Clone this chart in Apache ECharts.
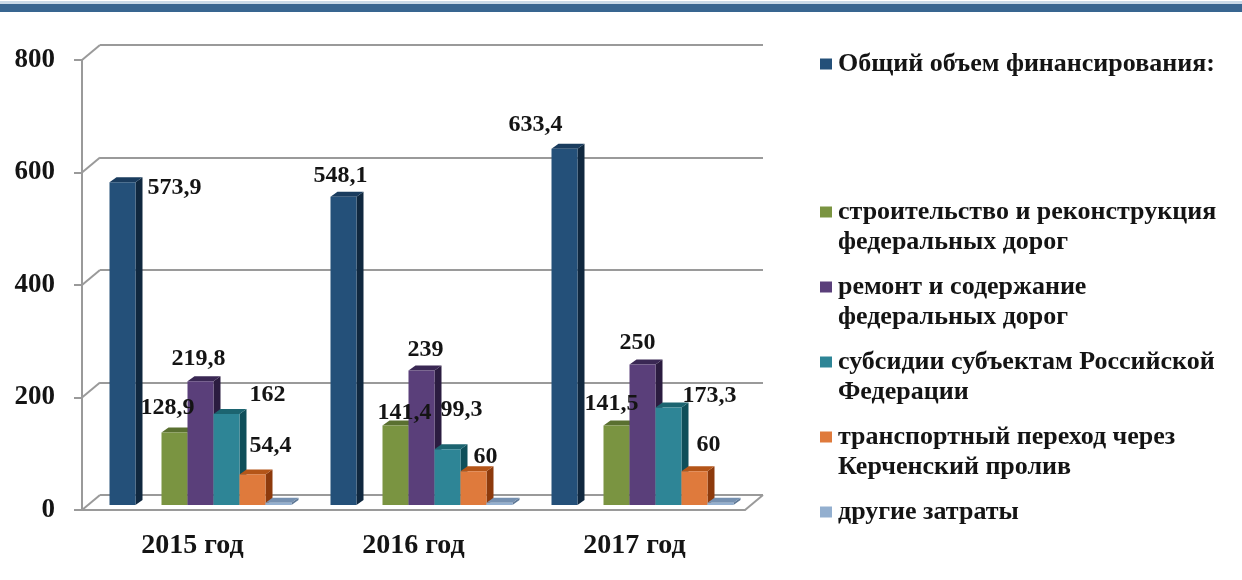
<!DOCTYPE html>
<html>
<head>
<meta charset="utf-8">
<script src="https://cdn.jsdelivr.net/npm/echarts@6/dist/echarts.min.js"></script>
<style>
  html, body { margin: 0; padding: 0; background: #fff; }
  #chart { width: 1242px; height: 580px; }
</style>
</head>
<body>
<div id="chart"></div>
<script>
// ---- data ----
const years = ['2015 год', '2016 год', '2017 год']
const yTicks = [0, 200, 400, 600, 800]

const seriesNames = [
  'Общий объем финансирования:',
  'строительство и реконструкция\nфедеральных дорог',
  'ремонт и содержание\nфедеральных дорог',
  'субсидии субъектам Российской\nФедерации',
  'транспортный переход через\nКерченский пролив',
  'другие затраты'
]

const totalFunding = [573.9, 548.1, 633.4]
const federalConstruction = [128.9, 141.4, 141.5]
const federalRepair = [219.8, 239, 250]
const regionalSubsidies = [162, 99.3, 173.3]
const kerchCrossing = [54.4, 60, 60]
const otherCosts = [4, 4, 4]

const seriesValues = [totalFunding, federalConstruction, federalRepair, regionalSubsidies, kerchCrossing, otherCosts]

// ---- style ----
const FONT = '"Liberation Serif", "Times New Roman", serif'
const TEXT = '#141414'
const GRID_LINE = '#9a9a9a'

// slot of each series inside the group (slot 1 is empty, as in the original)
const slots = [0, 2, 3, 4, 5, 6]
const SLOT_COUNT = 7
const BAR_FRAC = 26 / 221

// 3d look: bars sit a bit behind the front edge, back wall further back
const BAR_SHIFT = [8, -5]
const DEPTH = [7, -5]
const WALL = [18, -15]

const faces = [
  { front: '#245079', side: '#10283f', top: '#1a3c5e' },
  { front: '#7a9441', side: '#4e6324', top: '#5a7030' },
  { front: '#5a3f7a', side: '#2b1c40', top: '#3a2854' },
  { front: '#2e8596', side: '#0f4f5a', top: '#1c6470' },
  { front: '#df7a3c', side: '#8d3a0c', top: '#b45518' },
  { front: '#93afcf', side: '#5e7896', top: '#7590b0' }
]

// label offsets from the top centre of each bar, per series / per year
const labelOffsets = [
  [[52, 6], [-3, -21], [-29, -24]],
  [[-7, -25], [9, -13], [-5, -22]],
  [[-2, -23], [4, -21], [-5, -22]],
  [[41, -19], [14, -39], [41, -12]],
  [[18, -29], [12, -14], [14, -26]],
  null
]

const fmt = v => String(v).replace('.', ',')

const chart = echarts.init(document.getElementById('chart'))

const barSeries = seriesValues.map((values, k) => ({
  name: seriesNames[k],
  type: 'custom',
  xAxisIndex: 0,
  yAxisIndex: 0,
  silent: true,
  itemStyle: { color: faces[k].front },
  data: values.map((v, i) => [i, v]),
  renderItem: (params, api) => {
    const i = api.value(0)
    const v = api.value(1)
    const catW = api.size([1, 0])[0]
    const w = catW * BAR_FRAC
    const base = api.coord([i, 0])
    const top = api.coord([i, v])
    const x0 = base[0] - (SLOT_COUNT / 2) * w + BAR_SHIFT[0] + slots[k] * w
    const yb = base[1] + BAR_SHIFT[1]
    const yt = top[1] + BAR_SHIFT[1]
    const [dx, dy] = DEPTH
    const children = [
      {
        type: 'polygon',
        shape: { points: [[x0 + w, yt], [x0 + w + dx, yt + dy], [x0 + w + dx, yb + dy], [x0 + w, yb]] },
        style: { fill: faces[k].side }
      },
      {
        type: 'polygon',
        shape: { points: [[x0, yt], [x0 + dx, yt + dy], [x0 + w + dx, yt + dy], [x0 + w, yt]] },
        style: { fill: faces[k].top }
      },
      {
        type: 'rect',
        shape: { x: x0, y: yt, width: w, height: yb - yt },
        style: { fill: faces[k].front }
      }
    ]
    const off = labelOffsets[k]
    if (off) {
      children.push({
        type: 'text',
        z2: 100,
        x: x0 + w / 2 + off[i][0],
        y: yt + off[i][1],
        style: {
          text: fmt(v),
          fontFamily: FONT,
          fontWeight: 'bold',
          fontSize: 24,
          fill: TEXT,
          align: 'center',
          verticalAlign: 'middle'
        }
      })
    }
    return { type: 'group', children }
  }
}))

// diagonal connectors between front axis and back wall
const wallSeries = {
  type: 'custom',
  xAxisIndex: 0,
  yAxisIndex: 0,
  silent: true,
  data: yTicks.map(v => [0, v]),
  renderItem: (params, api) => {
    const cs = params.coordSys
    const v = api.value(1)
    const y = api.coord([0, v])[1]
    const style = { stroke: GRID_LINE, lineWidth: 2 }
    const children = [{
      type: 'line',
      shape: { x1: cs.x, y1: y, x2: cs.x + WALL[0], y2: y + WALL[1] },
      style
    }]
    if (v === 0) {
      children.push({
        type: 'line',
        shape: { x1: cs.x + cs.width, y1: y, x2: cs.x + cs.width + WALL[0], y2: y + WALL[1] },
        style
      })
    }
    return { type: 'group', children }
  }
}

// legend text: coloured square + lines
const legendRich = {
  g: { width: 6 },
  pad: { width: 18 },
  t: { fontFamily: FONT, fontWeight: 'bold', fontSize: 26, color: TEXT, lineHeight: 30 }
}
faces.forEach((f, k) => {
  legendRich['sq' + k] = { width: 12, height: 11, backgroundColor: f.front }
})
const legendFormatter = name => {
  const k = seriesNames.indexOf(name)
  const lines = name.split('\n')
  if (k > 0 && lines.length < 2) lines.push(' ')
  return lines.map((l, j) => (j === 0 ? `{sq${k}|}{g|}` : '{pad|}') + `{t|${l}}`).join('\n')
}
const legendBase = {
  orient: 'vertical',
  left: 810,
  itemWidth: 0,
  itemHeight: 0,
  itemStyle: { opacity: 0 },
  selectedMode: false,
  formatter: legendFormatter,
  textStyle: { rich: legendRich }
}

const option = {
  animation: false,
  backgroundColor: '#fff',
  graphic: [
    { type: 'rect', left: 0, top: 1, shape: { width: 1242, height: 3 }, style: { fill: '#c9d9e8' } },
    { type: 'rect', left: 0, top: 4, shape: { width: 1242, height: 8 }, style: { fill: '#386590' } }
  ],
  legend: [
    Object.assign({}, legendBase, { top: 46, data: [seriesNames[0]] }),
    Object.assign({}, legendBase, { top: 194, itemGap: 19, data: seriesNames.slice(1) })
  ],
  grid: [
    { left: 82, top: 60, width: 663, height: 450 },
    { left: 100, top: 45, width: 663, height: 450 }
  ],
  xAxis: [
    {
      type: 'category',
      gridIndex: 0,
      data: years,
      axisLine: { lineStyle: { color: GRID_LINE, width: 2 } },
      axisTick: { show: false },
      axisLabel: { margin: 22, fontFamily: FONT, fontWeight: 'bold', fontSize: 28, color: TEXT }
    },
    { type: 'category', gridIndex: 1, data: years, show: false }
  ],
  yAxis: [
    {
      type: 'value',
      gridIndex: 0,
      min: 0,
      max: 800,
      interval: 200,
      axisLine: { show: true, lineStyle: { color: GRID_LINE, width: 2 } },
      axisTick: { show: true, length: 8, lineStyle: { color: GRID_LINE, width: 2 } },
      splitLine: { show: false },
      axisLabel: { margin: 27, fontFamily: FONT, fontWeight: 'bold', fontSize: 27, color: TEXT }
    },
    {
      type: 'value',
      gridIndex: 1,
      min: 0,
      max: 800,
      interval: 200,
      axisLine: { show: false },
      axisTick: { show: false },
      axisLabel: { show: false },
      splitLine: { show: true, lineStyle: { color: GRID_LINE, width: 2 } }
    }
  ],
  series: [wallSeries, ...barSeries]
}

chart.setOption(option)
</script>
</body>
</html>
